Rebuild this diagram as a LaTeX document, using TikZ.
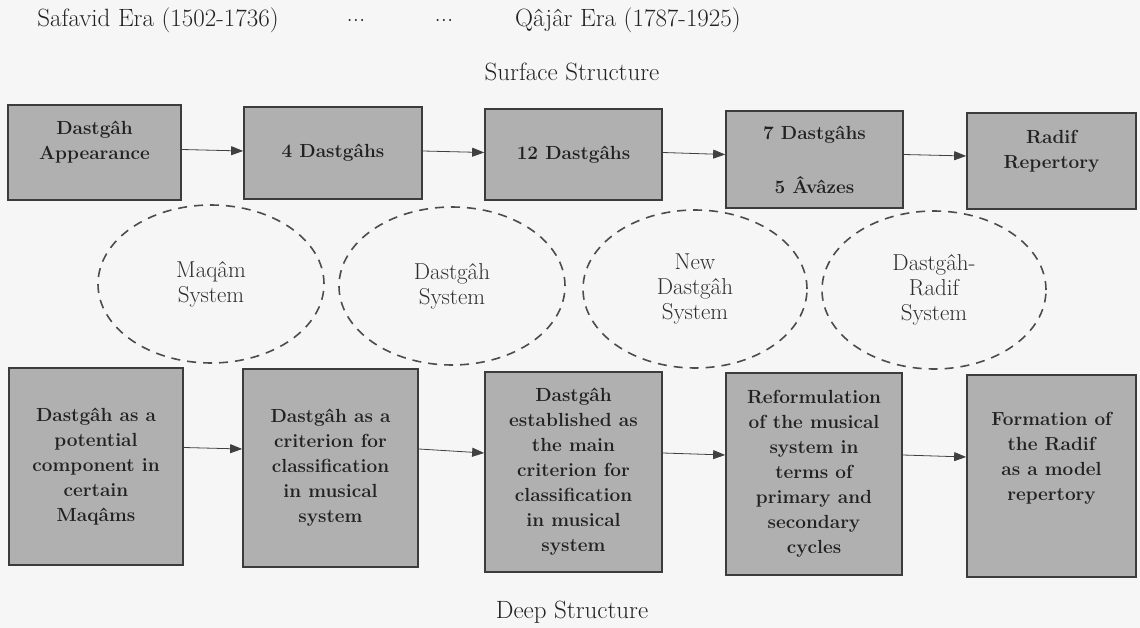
\documentclass[tikz,border=0pt]{standalone}
\usetikzlibrary{arrows.meta,shapes.geometric}
\definecolor{paper}{RGB}{246,246,246}
\definecolor{boxfill}{RGB}{176,176,176}
\definecolor{boxline}{RGB}{60,60,60}
\definecolor{ink}{RGB}{34,34,34}
\begin{document}
\begin{tikzpicture}[x=1pt,y=-1pt,
  box/.style={draw=boxline, line width=1.7pt, fill=boxfill, text=ink, align=center,
    inner sep=0pt, font=\bfseries\fontsize{19}{25}\selectfont},
  boxtext/.style={text=ink, align=center, inner sep=0pt, font=\bfseries\fontsize{19}{25}\selectfont},
  sys/.style={ellipse, draw=black!70, line width=1.6pt, dash pattern=on 9pt off 7pt,
    inner sep=0pt, text=black!82, align=center, font=\fontsize{23}{25}\selectfont},
  lab/.style={text=ink, font=\fontsize{25}{28}\selectfont, align=center, inner sep=0pt},
  arr/.style={draw=black!75, line width=0.8pt, -{Triangle[length=12pt,width=9pt]}}]
\fill[paper] (0,0) rectangle (1140,628);
\useasboundingbox (0,0) rectangle (1140,628);

% headers
\node[lab] (safavid) at (158,20) {Safavid Era (1502-1736)};
\node[lab] (dotsa) at (356,20) {...};
\node[lab] (dotsb) at (444,20) {...};
\node[lab] (qajar) at (628,20) {Qâjâr Era (1787-1925)};
\node[lab] (surface) at (572,72) {Surface Structure};
\node[lab] (deep) at (572,612) {Deep Structure};

% systems
\node[sys, minimum width=226pt, minimum height=158pt] (e1) at (211,284) {Maqâm\\System};
\node[sys, minimum width=226pt, minimum height=158pt] (e2) at (452,286) {Dastgâh\\System};
\node[sys, minimum width=224pt, minimum height=158pt] (e3) at (695,289) {New\\Dastgâh\\System};
\node[sys, minimum width=224pt, minimum height=158pt] (e4) at (934,290) {Dastgâh-\\Radif\\System};

% surface boxes
\node[box, minimum width=173pt, minimum height=95pt] (t1) at (94.5,152.5) {};
\node[boxtext] (t1t) at ([yshift=10pt]t1.center) {Dastgâh\\Appearance};
\node[box, minimum width=178pt, minimum height=92pt] (t2) at (333,153) {4 Dastgâhs};
\node[box, minimum width=177pt, minimum height=91pt] (t3) at (573.5,154.5) {12 Dastgâhs};
\node[box, minimum width=177pt, minimum height=97pt] (t4) at (814.5,159.5) {7 Dastgâhs\\[29pt]5 Âvâzes};
\node[box, minimum width=169pt, minimum height=96pt] (t5) at (1051.5,161) {};
\node[boxtext] (t5t) at ([yshift=10pt]t5.center) {Radif\\Repertory};

% deep boxes
\node[box, minimum width=174pt, minimum height=197pt] (b1) at (96,466.5)
  {Dastgâh as a\\potential\\component in\\certain\\Maqâms};
\node[box, minimum width=175pt, minimum height=198pt] (b2) at (330.5,468)
  {Dastgâh as a\\criterion for\\classification\\in musical\\system};
\node[box, minimum width=177pt, minimum height=200pt] (b3) at (573.5,472)
  {Dastgâh\\established as\\the main\\criterion for\\classification\\in musical\\system};
\node[box, minimum width=176pt, minimum height=202pt] (b4) at (814,474)
  {Reformulation\\of the musical\\system in\\terms of\\primary and\\secondary\\cycles};
\node[box, minimum width=169pt, minimum height=202pt] (b5) at (1051.5,476) {};
\node[boxtext] (b5t) at ([yshift=18pt]b5.center)
  {Formation of\\the Radif\\as a model\\repertory};

% arrows
\draw[arr] ([yshift=3pt]t1.east) -- ([yshift=2pt]t2.west);
\draw[arr] ([yshift=2pt]t2.east) -- ([yshift=2pt]t3.west);
\draw[arr] ([yshift=2pt]t3.east) -- ([yshift=5pt]t4.west);
\draw[arr] ([yshift=5pt]t4.east) -- ([yshift=5pt]t5.west);
\draw[arr] ([yshift=19pt]b1.east) -- ([yshift=19pt]b2.west);
\draw[arr] ([yshift=19pt]b2.east) -- ([yshift=19pt]b3.west);
\draw[arr] ([yshift=19pt]b3.east) -- ([yshift=19pt]b4.west);
\draw[arr] ([yshift=19pt]b4.east) -- ([yshift=19pt]b5.west);
\end{tikzpicture}
\end{document}
